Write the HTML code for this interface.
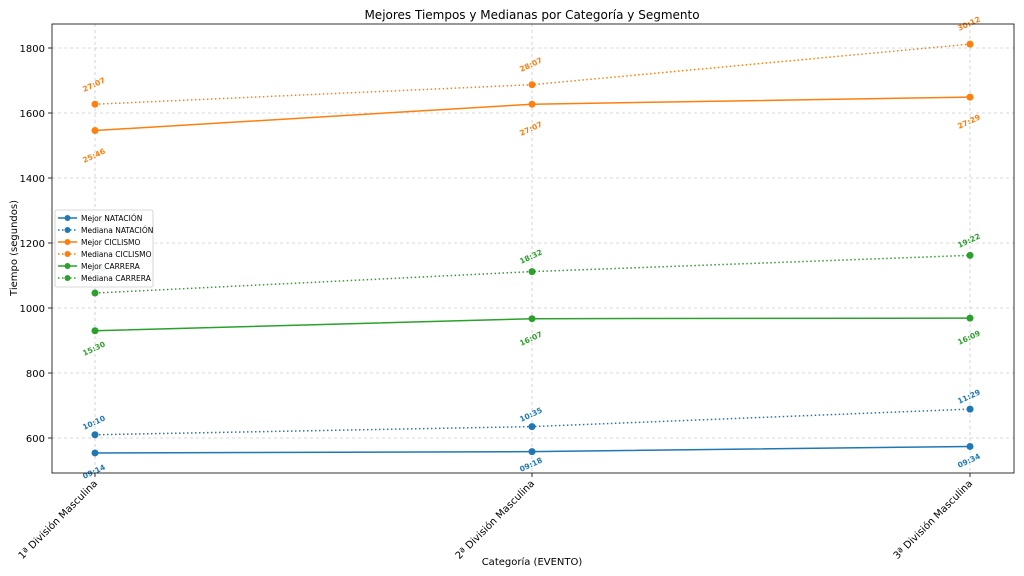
<!DOCTYPE html>
<html><head><meta charset="utf-8"><style>
body{margin:0;background:#fff}
svg{display:block;font-family:"DejaVu Sans","Liberation Sans",sans-serif}
.g{stroke:#ccc;stroke-width:0.8;stroke-dasharray:3,3}
.tk{font-size:10px;fill:#000}
.lb{font-size:7.5px;font-weight:bold;text-anchor:middle}
</style></head><body>
<svg width="1024" height="576" viewBox="0 0 1024 576">
<rect width="1024" height="576" fill="#fff"/>
<text x="532" y="19" font-size="12" text-anchor="middle">Mejores Tiempos y Medianas por Categoría y Segmento</text>
<g>
<line class="g" x1="52" x2="1014" y1="438" y2="438"/>
<line class="g" x1="52" x2="1014" y1="373" y2="373"/>
<line class="g" x1="52" x2="1014" y1="308" y2="308"/>
<line class="g" x1="52" x2="1014" y1="243" y2="243"/>
<line class="g" x1="52" x2="1014" y1="178" y2="178"/>
<line class="g" x1="52" x2="1014" y1="113" y2="113"/>
<line class="g" x1="52" x2="1014" y1="48" y2="48"/>
<line class="g" x1="95" x2="95" y1="24" y2="473"/>
<line class="g" x1="532" x2="532" y1="24" y2="473"/>
<line class="g" x1="970" x2="970" y1="24" y2="473"/>
</g>
<g class="tk" text-anchor="end">
<text x="45" y="442">600</text><text x="45" y="377">800</text><text x="45" y="312">1000</text>
<text x="45" y="247">1200</text><text x="45" y="182">1400</text><text x="45" y="117">1600</text><text x="45" y="52">1800</text>
</g>
<g stroke="#000" stroke-width="0.8">
<line x1="48" x2="52" y1="438" y2="438"/><line x1="48" x2="52" y1="373" y2="373"/><line x1="48" x2="52" y1="308" y2="308"/>
<line x1="48" x2="52" y1="243" y2="243"/><line x1="48" x2="52" y1="178" y2="178"/><line x1="48" x2="52" y1="113" y2="113"/><line x1="48" x2="52" y1="48" y2="48"/>
<line x1="95" x2="95" y1="473" y2="477"/><line x1="532" x2="532" y1="473" y2="477"/><line x1="970" x2="970" y1="473" y2="477"/>
</g>
<g class="tk" text-anchor="end">
<text transform="translate(98,484) rotate(-45)">1ª División Masculina</text>
<text transform="translate(535,484) rotate(-45)">2ª División Masculina</text>
<text transform="translate(973,484) rotate(-45)">3ª División Masculina</text>
</g>
<text x="532" y="565" font-size="10" text-anchor="middle">Categoría (EVENTO)</text>
<text transform="translate(17,248) rotate(-90)" font-size="10" text-anchor="middle">Tiempo (segundos)</text>

<g fill="none" stroke-width="1.5">
<polyline stroke="#1f77b4" points="95,452.95 532,451.65 970,446.45"/>
<polyline stroke="#1f77b4" stroke-dasharray="1.5,2.5" points="95,434.75 532,426.6 970,409.1"/>
<polyline stroke="#ff7f0e" points="95,130.55 532,104.2 970,97.1"/>
<polyline stroke="#ff7f0e" stroke-dasharray="1.5,2.5" points="95,104.2 532,84.7 970,44.1"/>
<polyline stroke="#2ca02c" points="95,330.75 532,318.7 970,318.1"/>
<polyline stroke="#2ca02c" stroke-dasharray="1.5,2.5" points="95,293.05 532,271.6 970,255.35"/>
</g>
<g fill="#1f77b4"><circle cx="95" cy="452.95" r="3.5"/><circle cx="532" cy="451.65" r="3.5"/><circle cx="970" cy="446.45" r="3.5"/>
<circle cx="95" cy="434.75" r="3.5"/><circle cx="532" cy="426.6" r="3.5"/><circle cx="970" cy="409.1" r="3.5"/></g>
<g fill="#ff7f0e"><circle cx="95" cy="130.55" r="3.5"/><circle cx="532" cy="104.2" r="3.5"/><circle cx="970" cy="97.1" r="3.5"/>
<circle cx="95" cy="104.2" r="3.5"/><circle cx="532" cy="84.7" r="3.5"/><circle cx="970" cy="44.1" r="3.5"/></g>
<g fill="#2ca02c"><circle cx="95" cy="330.75" r="3.5"/><circle cx="532" cy="318.7" r="3.5"/><circle cx="970" cy="318.1" r="3.5"/>
<circle cx="95" cy="293.05" r="3.5"/><circle cx="532" cy="271.6" r="3.5"/><circle cx="970" cy="255.35" r="3.5"/></g>

<g class="lb" fill="#1f77b4">
<text transform="translate(95,474) rotate(-25)">09:14</text>
<text transform="translate(532,467) rotate(-25)">09:18</text>
<text transform="translate(970,463) rotate(-25)">09:34</text>
<text transform="translate(95,425) rotate(-25)">10:10</text>
<text transform="translate(532,417) rotate(-25)">10:35</text>
<text transform="translate(970,399) rotate(-25)">11:29</text>
</g>
<g class="lb" fill="#ff7f0e">
<text transform="translate(95,158) rotate(-25)">25:46</text>
<text transform="translate(532,131) rotate(-25)">27:07</text>
<text transform="translate(970,124) rotate(-25)">27:29</text>
<text transform="translate(95,87) rotate(-25)">27:07</text>
<text transform="translate(532,67) rotate(-25)">28:07</text>
<text transform="translate(970,26) rotate(-25)">30:12</text>
</g>
<g class="lb" fill="#2ca02c">
<text transform="translate(95,351) rotate(-25)">15:30</text>
<text transform="translate(532,341) rotate(-25)">16:07</text>
<text transform="translate(970,340) rotate(-25)">16:09</text>
<text transform="translate(95,275) rotate(-25)">17:26</text>
<text transform="translate(532,259) rotate(-25)">18:32</text>
<text transform="translate(970,243) rotate(-25)">19:22</text>
</g>

<rect x="52" y="24" width="962" height="449" fill="none" stroke="#000" stroke-width="0.8"/>

<rect x="55" y="210" width="98" height="77" rx="2" fill="#fff" fill-opacity="0.9" stroke="#ccc" stroke-width="0.8"/>
<g font-size="7.5" fill="#000">
<line x1="58" x2="77" y1="218" y2="218" stroke="#1f77b4" stroke-width="1.5"/><circle cx="67.5" cy="218" r="3" fill="#1f77b4"/><text x="81" y="221">Mejor NATACIÓN</text>
<line x1="58" x2="77" y1="230" y2="230" stroke="#1f77b4" stroke-width="1.5" stroke-dasharray="1.5,2.5"/><circle cx="67.5" cy="230" r="3" fill="#1f77b4"/><text x="81" y="233">Mediana NATACIÓN</text>
<line x1="58" x2="77" y1="242" y2="242" stroke="#ff7f0e" stroke-width="1.5"/><circle cx="67.5" cy="242" r="3" fill="#ff7f0e"/><text x="81" y="245">Mejor CICLISMO</text>
<line x1="58" x2="77" y1="254" y2="254" stroke="#ff7f0e" stroke-width="1.5" stroke-dasharray="1.5,2.5"/><circle cx="67.5" cy="254" r="3" fill="#ff7f0e"/><text x="81" y="257">Mediana CICLISMO</text>
<line x1="58" x2="77" y1="266" y2="266" stroke="#2ca02c" stroke-width="1.5"/><circle cx="67.5" cy="266" r="3" fill="#2ca02c"/><text x="81" y="269">Mejor CARRERA</text>
<line x1="58" x2="77" y1="278" y2="278" stroke="#2ca02c" stroke-width="1.5" stroke-dasharray="1.5,2.5"/><circle cx="67.5" cy="278" r="3" fill="#2ca02c"/><text x="81" y="281">Mediana CARRERA</text>
</g>
</svg>
</body></html>
